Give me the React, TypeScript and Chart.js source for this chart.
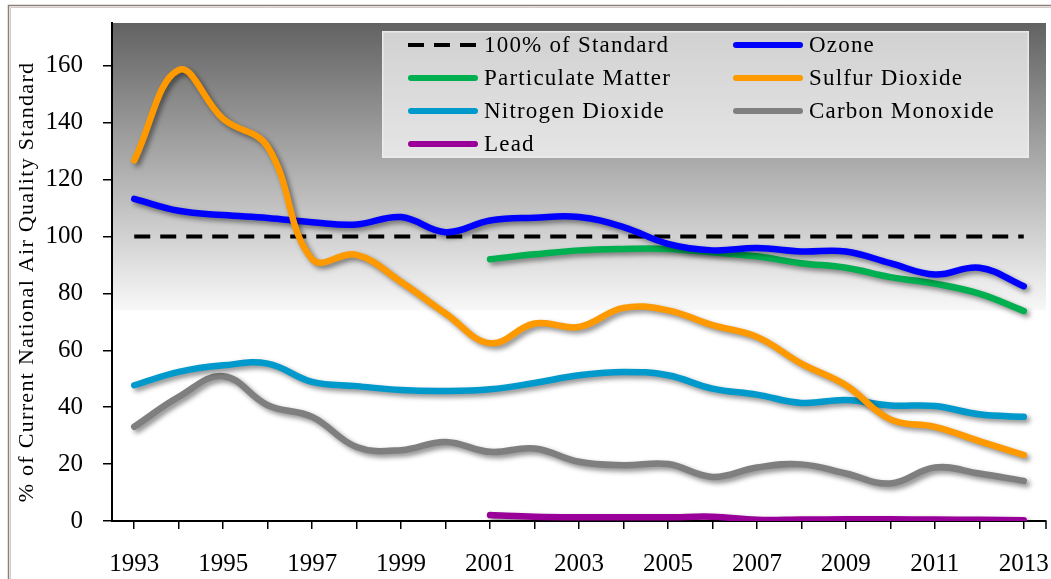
import React, { useEffect, useRef } from 'react';
import { Chart, registerables } from 'chart.js';

Chart.register(...registerables);

const years = ['1993', '1994', '1995', '1996', '1997', '1998', '1999', '2000', '2001', '2002', '2003',
  '2004', '2005', '2006', '2007', '2008', '2009', '2010', '2011', '2012', '2013'];

const standard = [100, 100, 100, 100, 100, 100, 100, 100, 100, 100, 100, 100, 100, 100, 100, 100, 100, 100, 100, 100, 100];
const ozone = [113.2, 109, 107.5, 106.5, 105, 104.2, 106.8, 101.5, 105.6, 106.6, 106.8, 103.3, 97.4, 95.1, 95.9, 94.7, 94.7, 90.6, 86.6, 89, 82.5];
const particulate = [null, null, null, null, null, null, null, null, 92.0, 93.7, 95.1, 95.6, 95.6, 94.4, 93.0, 90.6, 89.0, 85.7, 83.4, 79.9, 73.8];
const sulfurDioxide = [126.7, 158.5, 141.3, 131.5, 92, 93.5, 84, 72.9, 62.5, 69.4, 68.2, 74.9, 74.0, 68.8, 64.7, 55.3, 47.7, 35.7, 33.1, 28.1, 23.2];
const nitrogenDioxide = [47.7, 52.4, 54.7, 55.3, 48.9, 47.4, 46, 45.7, 46.3, 48.5, 51.2, 52.4, 51.2, 46.5, 44.4, 41.5, 42.5, 40.6, 40.4, 37.5, 36.6];
const carbonMonoxide = [33.1, 43.6, 50.9, 40.7, 36.6, 26, 24.9, 27.8, 24.3, 25.5, 20.8, 19.6, 20, 15.5, 18.8, 19.9, 16.7, 13.2, 18.8, 16.7, 14.1];
const lead = [null, null, null, null, null, null, null, null, 2.1, 1.5, 1.3, 1.3, 1.3, 1.5, 0.4, 0.5, 0.6, 0.6, 0.5, 0.4, 0.3];

const yTitle = '% of Current National Air Quality Standard';
const legendOrder = ['100% of Standard', 'Ozone', 'Particulate Matter', 'Sulfur Dioxide', 'Nitrogen Dioxide', 'Carbon Monoxide', 'Lead'];

const SERIF = "'Liberation Serif', 'Times New Roman', serif";

const bgPlugin = {
  id: 'bgPlugin',
  beforeDraw(chart: any) {
    const { ctx, chartArea: a, width, height } = chart;
    ctx.save();
    ctx.fillStyle = '#ffffff';
    ctx.fillRect(0, 0, width, height);
    const yEnd = chart.scales.y.getPixelForValue(74);
    const g = ctx.createLinearGradient(0, a.top, 0, yEnd);
    g.addColorStop(0, '#626262');
    g.addColorStop(1, '#f8f8f8');
    ctx.fillStyle = g;
    ctx.fillRect(a.left, a.top, a.right - a.left, yEnd - a.top);
    // outer frame
    ctx.strokeStyle = '#8a7f7a';
    ctx.lineWidth = 1.5;
    ctx.beginPath();
    ctx.moveTo(8.5, height);
    ctx.lineTo(8.5, 5.5);
    ctx.lineTo(width, 5.5);
    ctx.stroke();
    ctx.strokeStyle = '#d2cbc8';
    ctx.lineWidth = 1;
    ctx.beginPath();
    ctx.moveTo(10.5, height);
    ctx.lineTo(10.5, 7.5);
    ctx.lineTo(width, 7.5);
    ctx.stroke();
    ctx.restore();
  },
};

const shadowPlugin = {
  id: 'shadowPlugin',
  beforeDatasetDraw(chart: any, args: any) {
    const ds = chart.data.datasets[args.index];
    if (ds.label === '100% of Standard') return;
    const ctx = chart.ctx;
    ctx.save();
    ctx.shadowColor = 'rgba(0,0,0,0.45)';
    ctx.shadowBlur = 5;
    ctx.shadowOffsetX = 3;
    ctx.shadowOffsetY = 3;
  },
  afterDatasetDraw(chart: any, args: any) {
    const ds = chart.data.datasets[args.index];
    if (ds.label === '100% of Standard') return;
    chart.ctx.restore();
  },
};

const decorPlugin = {
  id: 'decorPlugin',
  afterDraw(chart: any) {
    const { ctx, chartArea: a } = chart;
    ctx.save();
    // end tick on x axis
    ctx.strokeStyle = '#000';
    ctx.lineWidth = 1.5;
    ctx.beginPath();
    ctx.moveTo(a.right, a.bottom);
    ctx.lineTo(a.right, a.bottom + 8);
    ctx.stroke();

    // y axis title
    ctx.save();
    ctx.translate(27, 282);
    ctx.rotate(-Math.PI / 2);
    ctx.font = `22px ${SERIF}`;
    (ctx as any).letterSpacing = '1.3px';
    ctx.fillStyle = '#000';
    ctx.textAlign = 'center';
    ctx.textBaseline = 'middle';
    ctx.fillText(yTitle, 0, 0);
    ctx.restore();

    // legend box
    const bx = 382, by = 31, bw = 647, bh = 127;
    ctx.fillStyle = 'rgba(255,255,255,0.7)';
    ctx.fillRect(bx, by, bw, bh);
    ctx.strokeStyle = 'rgba(235,235,235,0.9)';
    ctx.lineWidth = 1.5;
    ctx.strokeRect(bx + 0.75, by + 0.75, bw - 1.5, bh - 1.5);

    const colX = [408, 733];
    const rowY = [45, 78, 111, 144];
    const sampleLen = 70;
    legendOrder.forEach((name, i) => {
      const ds = chart.data.datasets.find((d: any) => d.label === name);
      if (!ds) return;
      const cx = colX[i % 2];
      const cy = rowY[Math.floor(i / 2)];
      const dashed = ds.borderDash && ds.borderDash.length;
      ctx.save();
      ctx.strokeStyle = ds.borderColor;
      if (dashed) {
        ctx.setLineDash(ds.borderDash);
        ctx.lineWidth = 4;
        ctx.lineCap = 'butt';
      } else {
        ctx.lineWidth = 6;
        ctx.lineCap = 'round';
      }
      ctx.beginPath();
      ctx.moveTo(cx + (dashed ? 0 : 3), cy);
      ctx.lineTo(cx + sampleLen - (dashed ? 0 : 3), cy);
      ctx.stroke();
      ctx.restore();
      ctx.save();
      ctx.font = `23px ${SERIF}`;
      (ctx as any).letterSpacing = '1.2px';
      ctx.fillStyle = '#000';
      ctx.textAlign = 'left';
      ctx.textBaseline = 'middle';
      ctx.fillText(name, cx + sampleLen + 6, cy + 1);
      ctx.restore();
    });
    ctx.restore();
  },
};

function lineDs(label: string, data: (number | null)[], color: string, order: number) {
  return {
    label,
    data,
    borderColor: color,
    backgroundColor: color,
    borderWidth: 6.5,
    pointRadius: 0,
    pointHoverRadius: 0,
    tension: 0.4,
    fill: false,
    borderCapStyle: 'round' as const,
    borderJoinStyle: 'round' as const,
    order,
  };
}

export default function App() {
  const ref = useRef<HTMLCanvasElement>(null);

  useEffect(() => {
    const canvas = ref.current;
    if (!canvas) return;
    const chart = new Chart(canvas, {
      type: 'line',
      data: {
        labels: years,
        datasets: [
          {
            label: '100% of Standard',
            data: standard,
            borderColor: '#000000',
            backgroundColor: '#000000',
            borderWidth: 4,
            borderDash: [16, 10],
            pointRadius: 0,
            pointHoverRadius: 0,
            tension: 0,
            fill: false,
            order: 10,
          },
          lineDs('Ozone', ozone, '#0000ff', 3),
          lineDs('Particulate Matter', particulate, '#00b050', 4),
          lineDs('Sulfur Dioxide', sulfurDioxide, '#ff9900', 1),
          lineDs('Nitrogen Dioxide', nitrogenDioxide, '#0099cc', 5),
          lineDs('Carbon Monoxide', carbonMonoxide, '#7f7f7f', 6),
          lineDs('Lead', lead, '#990099', 7),
        ] as any,
      },
      options: {
        responsive: false,
        animation: false,
        devicePixelRatio: 1,
        layout: { padding: { left: 0, right: 5, top: 23, bottom: 0 } },
        plugins: {
          legend: { display: false },
          tooltip: { enabled: false },
          title: { display: false },
        },
        scales: {
          x: {
            type: 'category',
            offset: true,
            grid: {
              display: true,
              drawOnChartArea: false,
              drawTicks: true,
              tickLength: 8,
              color: '#000',
              lineWidth: 1.5,
            },
            border: { display: true, color: '#000', width: 2 },
            ticks: {
              autoSkip: false,
              maxRotation: 0,
              minRotation: 0,
              padding: 20,
              color: '#000',
              font: { family: SERIF, size: 25 },
              callback: (_v: any, i: number) => (i % 2 === 0 ? years[i] : ''),
            },
            afterFit: (s: any) => {
              s.height = 58;
              s.paddingLeft = 0;
              s.paddingRight = 0;
            },
          },
          y: {
            min: 0,
            max: 175,
            grid: {
              display: true,
              drawOnChartArea: false,
              drawTicks: true,
              tickLength: 9,
              color: '#000',
              lineWidth: 1.5,
            },
            border: { display: true, color: '#000', width: 2 },
            ticks: {
              stepSize: 20,
              padding: 20,
              color: '#000',
              font: { family: SERIF, size: 25 },
            },
            afterBuildTicks: (s: any) => {
              s.ticks = s.ticks.filter((t: any) => t.value % 20 === 0);
            },
            afterFit: (s: any) => {
              s.width = 112;
              s.paddingTop = 0;
              s.paddingBottom = 0;
            },
          },
        },
      },
      plugins: [bgPlugin, shadowPlugin, decorPlugin],
    } as any);
    return () => chart.destroy();
  }, []);

  return (
    <div style={{ position: 'fixed', left: 0, top: 0, width: 1051, height: 579, background: '#fff' }}>
      <canvas ref={ref} width={1051} height={579} style={{ display: 'block', width: 1051, height: 579 }} />
    </div>
  );
}
